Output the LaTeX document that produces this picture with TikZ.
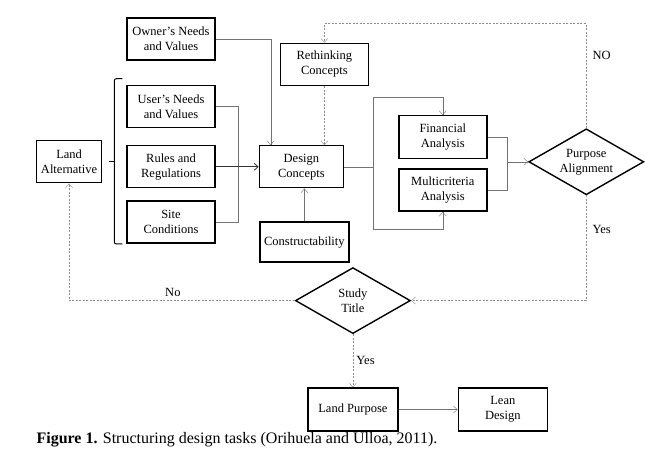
\documentclass[tikz,border=0pt]{standalone}
\usepackage{fontspec}
\setmainfont{Liberation Serif}
\usepackage{tikz}
\usetikzlibrary{arrows.meta,positioning,shapes.geometric}

\begin{document}
\begin{tikzpicture}[
  font=\fontsize{12.5}{15}\selectfont,
  box/.style={rectangle, draw, line width=1.4pt, minimum width=88pt,
              minimum height=42pt, align=center, inner sep=2pt},
  choice/.style={diamond, draw, line width=1.4pt, aspect=1.75,
                 minimum width=115pt, minimum height=66pt,
                 align=center, inner sep=0pt},
  arrow/.style={-{Straight Barb[length=4pt,width=7pt]}, draw=black!55},
  conn/.style={draw=black!55},
  loop/.style={arrow, draw=black!45, dash pattern=on 2pt off 1.5pt},
  brace/.style={draw, line width=1pt, rounded corners=2pt},
  tag/.style={inner sep=6pt},
]
  \useasboundingbox (0,0) rectangle (645pt,-454pt);

  \node[box] (owner) at (171pt,-39pt) {Owner's Needs\\and Values};
  \node[box, below=24pt of owner] (user) {User's Needs\\and Values};
  \node[box, below=17pt of user]  (rules) {Rules and\\Regulations};
  \node[box, below=12pt of rules] (site) {Site\\Conditions};
  \node[box, minimum width=65pt, left=24pt of rules, yshift=5pt]
    (land) {Land\\Alternative};
  \node[box, minimum width=84pt, right=43pt of rules] (design)
    {Design\\Concepts};
  \node[box, above=59pt of design, xshift=23pt] (rethink)
    {Rethinking\\Concepts};
  \node[box, minimum width=89pt, minimum height=40pt,
        below=33pt of design, xshift=3pt] (constr) {Constructability};
  \node[box, minimum height=43pt, right=54pt of design, yshift=29.5pt]
    (fin) {Financial\\Analysis};
  \node[box, below=9pt of fin] (multi) {Multicriteria\\Analysis};
  \node[choice, right=184pt of design, yshift=5pt] (purpose)
    {Purpose\\Alignment};
  \node[choice, below=4pt of constr, xshift=48.5pt] (study)
    {Study\\Title};
  \node[box, minimum width=90pt, minimum height=43pt,
        below=53pt of study] (lpurpose) {Land Purpose};
  \node[box, minimum width=89pt, minimum height=43pt,
        right=59pt of lpurpose] (lean) {Lean\\Design};
  \node[anchor=west, font=\fontsize{16}{18}\selectfont] (caption)
    at (33pt,-440pt) {\textbf{Figure 1.} Structuring design tasks
    (Orihuela and Ulloa, 2011).};

  % inputs
  \draw[brace] ([xshift=-4pt,yshift=6pt]user.north west) -- ++(-8pt,0)
    |- ([xshift=-4pt]site.south west);
  \draw[brace] ([xshift=-12pt]land.east -| user.west) -- ++(-5pt,0);
  \draw[arrow] (owner.east) -| ([xshift=12pt]design.north west);
  \draw[conn] (user.east) -| ([xshift=22pt]site.east) -- (site.east);
  \draw[arrow, thick, draw=black!80] (rules.east) -- (design.west);
  \draw[arrow] (constr.north) -- (constr.north |- design.south);
  \draw[loop] (rethink.south) -- (rethink.south |- design.north);

  % analysis
  \draw[arrow] (design.east) -- ++(29pt,0)
    |- ([yshift=18pt]fin.north) -- (fin.north);
  \draw[arrow] (design.east) -- ++(29pt,0)
    |- ([yshift=-17pt]multi.south) -- (multi.south);
  \draw[conn] (fin.east) -- ++(20pt,0) |- (multi.east);
  \draw[arrow] ([xshift=20pt]fin.east |- purpose.west) -- (purpose.west);

  % decisions
  \draw[loop] (purpose.north) |- ([yshift=19pt]rethink.north)
    node[right, tag, pos=0.35] {NO} -- (rethink.north);
  \draw[loop] (purpose.south) |- (study.east)
    node[right, tag, pos=0.16] {Yes};
  \draw[loop] (study.west) -| (land.south)
    node[above, pos=0.27] {No};
  \draw[loop] (study.south) -- (lpurpose.north)
    node[right, midway] {Yes};
  \draw[arrow] (lpurpose) -- (lean);
\end{tikzpicture}
\end{document}
